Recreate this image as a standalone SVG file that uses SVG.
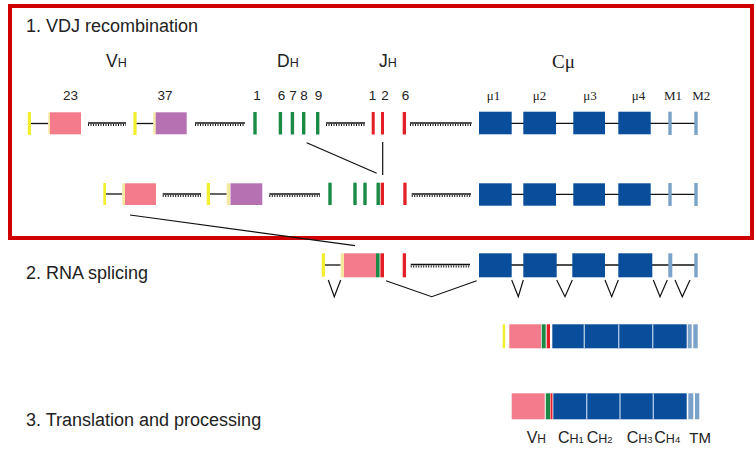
<svg xmlns="http://www.w3.org/2000/svg" width="756" height="450" viewBox="0 0 756 450">
<defs>
<style>
.t{font-family:"Liberation Sans",Arial,sans-serif;fill:#222}
.s{font-family:"Liberation Serif","Times New Roman",serif;fill:#222}
.y{fill:#f2ee30}
.py{fill:#f5e9a0}
.pk{fill:#f37b8b}
.pu{fill:#b571b2}
.g{fill:#1a8a45}
.r{fill:#e41e26}
.b{fill:#0a4e9b}
.lb{fill:#7ba2c9}
.ln{stroke:#111;stroke-width:1.3;fill:none}
.dl{stroke:#111;stroke-width:1.3;fill:none}
.dt{stroke:#111;stroke-width:1.8;stroke-dasharray:1 1.5;fill:none}
.cn{stroke:#111;stroke-width:1.2;fill:none}
.dv{stroke:#a9c4e0;stroke-width:1.4}
</style>
</defs>
<rect width="756" height="450" fill="#fff"/>
<rect x="10" y="6" width="742" height="232" fill="none" stroke="#d00000" stroke-width="4"/>

<g id="titles">
<text class="t" x="26" y="32" font-size="18">1. VDJ recombination</text>
<text class="t" x="26" y="279" font-size="18">2. RNA splicing</text>
<text class="t" x="26" y="426" font-size="18">3. Translation and processing</text>
</g>

<g id="headers">
<text class="t" x="106" y="67" font-size="17.5">V<tspan font-size="12.5">H</tspan></text>
<text class="t" x="277" y="67" font-size="17.5">D<tspan font-size="12.5">H</tspan></text>
<text class="t" x="379" y="67" font-size="17.5">J<tspan font-size="12.5">H</tspan></text>
<text class="s" x="552" y="68" font-size="19">Cμ</text>
</g>

<g id="gene-numbers" font-size="13.5" text-anchor="middle">
<text class="t" x="70.5" y="99.5">23</text>
<text class="t" x="165" y="99.5">37</text>
<text class="t" x="257" y="99.5">1</text>
<text class="t" y="99.5"><tspan x="281.5">6</tspan><tspan x="293">7</tspan><tspan x="304">8</tspan><tspan x="318.5">9</tspan></text>
<text class="t" y="99.5"><tspan x="372.5">1</tspan><tspan x="385">2</tspan></text>
<text class="t" x="405.5" y="99.5">6</text>
</g>
<g id="c-labels" font-size="13">
<text class="s" x="486.7" y="99.5">μ1</text>
<text class="s" x="532.7" y="99.5">μ2</text>
<text class="s" x="583.3" y="99.5">μ3</text>
<text class="s" x="631.7" y="99.5">μ4</text>
<text class="s" x="664" y="99.5">M1</text>
<text class="s" x="692.3" y="99.5">M2</text>
</g>

<g id="germline">
<g id="g-v23">
<rect class="y" x="27.8" y="112" width="3.2" height="23"/>
<line class="ln" x1="31" y1="123.5" x2="48.3" y2="123.5"/>
<rect class="py" x="48.3" y="112.3" width="1.7" height="22"/>
<rect class="pk" x="50" y="112.3" width="31" height="22"/>
</g>
<g id="g-i1"><line class="dl" x1="88" y1="123" x2="126" y2="123"/><line class="dt" x1="88" y1="125" x2="126" y2="125"/></g>
<g id="g-v37">
<rect class="y" x="133.3" y="112" width="3.3" height="23"/>
<line class="ln" x1="136.6" y1="123.5" x2="153.3" y2="123.5"/>
<rect class="py" x="153.3" y="112.3" width="2.4" height="22"/>
<rect class="pu" x="155.7" y="112.3" width="31" height="22"/>
</g>
<g id="g-i2"><line class="dl" x1="195" y1="123" x2="245" y2="123"/><line class="dt" x1="195" y1="125" x2="245" y2="125"/></g>
<g id="g-d">
<rect class="g" x="253.3" y="112" width="3.4" height="22.5"/>
<rect class="g" x="278.7" y="112" width="3.4" height="22.5"/>
<rect class="g" x="290.7" y="112" width="3.4" height="22.5"/>
<rect class="g" x="302" y="112" width="3.4" height="22.5"/>
<rect class="g" x="316" y="112" width="3.4" height="22.5"/>
</g>
<g id="g-i3"><line class="dl" x1="326" y1="123" x2="365" y2="123"/><line class="dt" x1="326" y1="125" x2="365" y2="125"/></g>
<g id="g-j">
<rect class="r" x="371.7" y="112" width="3" height="22.5"/>
<rect class="r" x="381" y="112" width="3" height="22.5"/>
<rect class="r" x="402.7" y="112" width="3.3" height="22.5"/>
</g>
<g id="g-i4"><line class="dl" x1="410" y1="123" x2="471.7" y2="123"/><line class="dt" x1="410" y1="125" x2="471.7" y2="125"/></g>
<g id="g-c">
<line class="ln" x1="479" y1="123.3" x2="697" y2="123.3"/>
<rect class="b" x="479" y="111.7" width="32.7" height="22.6"/>
<rect class="b" x="523.3" y="111.7" width="32.7" height="22.6"/>
<rect class="b" x="573.3" y="111.7" width="31.7" height="22.6"/>
<rect class="b" x="618.3" y="111.7" width="32.4" height="22.6"/>
<rect class="lb" x="668.3" y="111.7" width="3.4" height="23.3"/>
<rect class="lb" x="694.3" y="111.7" width="3.4" height="23.3"/>
</g>
</g>

<g id="rearranged">
<g id="r-v23">
<rect class="y" x="103.3" y="183" width="2.7" height="22"/>
<line class="ln" x1="106" y1="194" x2="122.3" y2="194"/>
<rect class="py" x="122.3" y="183.3" width="2.7" height="21.7"/>
<rect class="pk" x="125" y="183.3" width="31" height="21.7"/>
</g>
<g id="r-i1"><line class="dl" x1="162.7" y1="194" x2="201" y2="194"/><line class="dt" x1="162.7" y1="196" x2="201" y2="196"/></g>
<g id="r-v37">
<rect class="y" x="206.7" y="183" width="3.3" height="22"/>
<line class="ln" x1="210" y1="194" x2="226.7" y2="194"/>
<rect class="py" x="226.7" y="183.3" width="3.3" height="21.7"/>
<rect class="pu" x="230.5" y="183.3" width="31.8" height="21.7"/>
</g>
<g id="r-i2"><line class="dl" x1="269.3" y1="194" x2="320" y2="194"/><line class="dt" x1="269.3" y1="196" x2="320" y2="196"/></g>
<g id="r-dj">
<rect class="g" x="328.3" y="182.7" width="3.4" height="22.3"/>
<rect class="g" x="353.3" y="182.7" width="3.4" height="22.3"/>
<rect class="g" x="363.3" y="182.7" width="3.4" height="22.3"/>
<rect class="g" x="376.5" y="182.7" width="3.4" height="22.3"/>
<rect class="r" x="380.7" y="182.7" width="3.3" height="22.3"/>
<rect class="r" x="403.3" y="182.7" width="3.3" height="22.3"/>
</g>
<g id="r-i3"><line class="dl" x1="411.7" y1="194" x2="471" y2="194"/><line class="dt" x1="411.7" y1="196" x2="471" y2="196"/></g>
<g id="r-c">
<line class="ln" x1="479" y1="194.3" x2="697" y2="194.3"/>
<rect class="b" x="479" y="183.3" width="32.7" height="22.4"/>
<rect class="b" x="523.3" y="183.3" width="32.7" height="22.4"/>
<rect class="b" x="573.3" y="183.3" width="31.7" height="22.4"/>
<rect class="b" x="618.3" y="183.3" width="32.4" height="22.4"/>
<rect class="lb" x="668.3" y="183" width="3.4" height="23"/>
<rect class="lb" x="694.3" y="183" width="3.4" height="23"/>
</g>
</g>

<g id="transcript">
<g id="t-vdj">
<rect class="y" x="321.7" y="253.3" width="3.3" height="23.4"/>
<line class="ln" x1="325" y1="265" x2="340.7" y2="265"/>
<rect class="py" x="340.7" y="253.3" width="3.3" height="24"/>
<rect class="pk" x="344" y="253.3" width="32" height="24"/>
<rect class="g" x="376" y="253.3" width="3.6" height="24"/>
<rect class="r" x="380.4" y="253.3" width="3.6" height="24"/>
<rect class="r" x="402.7" y="253.3" width="3.3" height="24"/>
</g>
<g id="t-i1"><line class="dl" x1="410.7" y1="264.5" x2="470" y2="264.5"/><line class="dt" x1="410.7" y1="266.5" x2="470" y2="266.5"/></g>
<g id="t-c">
<line class="ln" x1="479" y1="265" x2="697" y2="265"/>
<rect class="b" x="479" y="253.3" width="32.7" height="24"/>
<rect class="b" x="523.3" y="253.3" width="33.4" height="24"/>
<rect class="b" x="572.3" y="253.3" width="32.7" height="24"/>
<rect class="b" x="618.3" y="253.3" width="34" height="24"/>
<rect class="lb" x="668.3" y="253.3" width="4" height="24"/>
<rect class="lb" x="694.3" y="253.3" width="3.4" height="24"/>
</g>
</g>

<g id="mrna">
<rect class="y" x="502.7" y="324.3" width="2.5" height="24"/>
<rect class="pk" x="509.3" y="324.3" width="31.7" height="24"/>
<rect class="g" x="541.7" y="324.3" width="4" height="24"/>
<rect class="r" x="546.7" y="324.3" width="3.3" height="24"/>
<rect class="b" x="552.3" y="324.3" width="134.4" height="24"/>
<line class="dv" x1="584.3" y1="324.3" x2="584.3" y2="348.3"/>
<line class="dv" x1="618.7" y1="324.3" x2="618.7" y2="348.3"/>
<line class="dv" x1="652.7" y1="324.3" x2="652.7" y2="348.3"/>
<rect class="lb" x="687.7" y="324.3" width="4" height="24"/>
<rect class="lb" x="693.3" y="324.3" width="4.4" height="24"/>
</g>

<g id="protein">
<rect class="pk" x="511.7" y="393.3" width="33" height="26"/>
<rect class="g" x="545.8" y="393.3" width="4.2" height="26"/>
<rect class="r" x="550.5" y="393.3" width="2" height="26"/>
<rect class="b" x="553.3" y="393.3" width="133.4" height="26"/>
<line class="dv" x1="586.7" y1="393.3" x2="586.7" y2="419.3"/>
<line class="dv" x1="620" y1="393.3" x2="620" y2="419.3"/>
<line class="dv" x1="653.3" y1="393.3" x2="653.3" y2="419.3"/>
<rect class="lb" x="688.3" y="393.3" width="5" height="26"/>
<rect class="lb" x="695" y="393.3" width="4.3" height="26"/>
</g>

<g id="protein-labels">
<text class="t" x="526.7" y="443" font-size="16">V<tspan font-size="12">H</tspan></text>
<text class="t" x="558" y="443" font-size="16">C<tspan font-size="12.5">H</tspan><tspan font-size="9.5">1</tspan></text>
<text class="t" x="586.7" y="443" font-size="16">C<tspan font-size="12.5">H</tspan><tspan font-size="9.5">2</tspan></text>
<text class="t" x="626.7" y="443" font-size="16">C<tspan font-size="12.5">H</tspan><tspan font-size="9.5">3</tspan></text>
<text class="t" x="654.3" y="443" font-size="16">C<tspan font-size="12.5">H</tspan><tspan font-size="9.5">4</tspan></text>
<text class="t" x="689.3" y="443" font-size="15">TM</text>
</g>

<g id="connectors">
<line class="cn" x1="306.7" y1="142.7" x2="376.7" y2="173.3"/>
<line class="cn" x1="382.7" y1="142" x2="382.7" y2="175"/>
<line class="cn" x1="130" y1="215" x2="355" y2="245.7"/>
<polyline class="cn" points="328.3,280 334.3,296.7 340.7,280"/>
<polyline class="cn" points="386,280.7 431.7,296.7 476.7,280.7"/>
<polyline class="cn" points="511.7,280 518.3,296.7 523.3,280"/>
<polyline class="cn" points="556.7,280 565,296.7 572.3,280"/>
<polyline class="cn" points="605,280 611.7,296.7 618.3,280"/>
<polyline class="cn" points="653.3,280 660,296.7 667.3,280"/>
<polyline class="cn" points="675,280 682.3,296.7 690,280"/>
</g>
</svg>
